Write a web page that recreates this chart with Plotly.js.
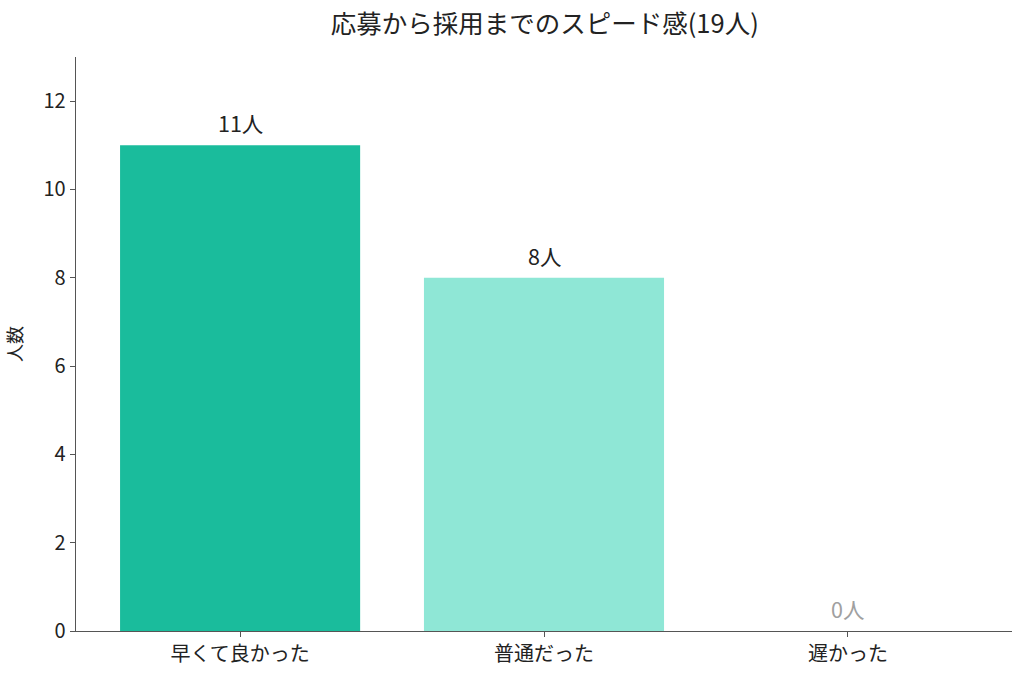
<!DOCTYPE html>
<html><head><meta charset="utf-8">
<script src="https://cdn.plot.ly/plotly-3.0.1.min.js"></script>
<style>body{margin:0;background:#fff}#c{width:1024px;height:675px}</style>
</head><body><div id="c"></div>
<script>
const categories = ["早くて良かった", "普通だった", "遅かった"];
const counts = [11, 8, 0];
const barColors = ["#1abc9c", "#8fe7d6", "#cccccc"];
const labelColors = ["#222222", "#222222", "#a0a0a0"];
const titleText = "応募から採用までのスピード感(19人)";
const yTitle = "人数";
const yTicks = [0, 2, 4, 6, 8, 10, 12];

const font = "'Noto Sans CJK JP', 'Noto Sans', sans-serif";
const trace = {
  type: "bar", x: categories, y: counts,
  marker: {color: barColors}, width: 0.79, hoverinfo: "none"
};
const annotations = categories.map((c, i) => ({
  x: c, y: counts[i], xref: "x", yref: "y", text: counts[i] + "人",
  showarrow: false, yanchor: "bottom", yshift: 5,
  font: {family: font, size: 21.5, color: labelColors[i]}
}));
const layout = {
  width: 1024, height: 675,
  margin: {l: 76, r: 12, t: 57, b: 44},
  paper_bgcolor: "#fff", plot_bgcolor: "#fff",
  font: {family: font, color: "#222"},
  title: {text: titleText, x: 0.532, xanchor: "center", y: 0.964, yanchor: "middle", font: {family: font, size: 25.5, color: "#222"}},
  xaxis: {type: "category", range: [-0.54, 2.54], showgrid: false, zeroline: false,
    showline: true, linecolor: "#555", linewidth: 1.3, ticks: "outside", ticklen: 5, tickcolor: "#555",
    tickfont: {family: font, size: 20, color: "#222"}, fixedrange: true},
  yaxis: {range: [0, 13], tickvals: yTicks, showgrid: false, zeroline: false,
    showline: true, linecolor: "#555", linewidth: 1.3, ticks: "outside", ticklen: 5, tickcolor: "#555",
    tickfont: {family: font, size: 20, color: "#222"},
    title: {text: yTitle, font: {family: font, size: 18, color: "#222"}, standoff: 16}},
  annotations: annotations, showlegend: false, bargap: 0.21
};
Plotly.newPlot("c", [trace], layout, {displayModeBar: false, staticPlot: true});
</script></body></html>
